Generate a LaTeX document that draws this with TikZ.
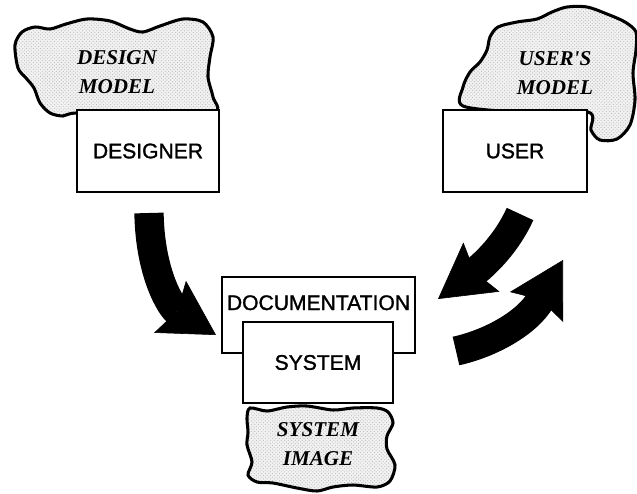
\documentclass[tikz,border=0pt]{standalone}
\usepackage{fontspec}
\setmainfont{Liberation Sans}
\newfontfamily\boxfont[FakeBold=1.4]{Liberation Sans}
\newfontfamily\modelfont{Liberation Serif}
\usetikzlibrary{arrows.meta,patterns}

\begin{document}
\begin{tikzpicture}[x=0.03cm, y=-0.03cm,
        box/.style={draw, fill=white, line width=2.2pt, inner sep=0pt,
            font=\boxfont\fontsize{18}{21}\selectfont},
        cloud/.style={draw, line width=2.6pt, preaction={fill=black!5},
            pattern=crosshatch dots, pattern color=black!28},
        modeltext/.style={align=center,
            font=\modelfont\bfseries\itshape\fontsize{18}{25}\selectfont},
        bigarrow/.style={line width=25pt,
            -{Stealth[length=46pt, width=52pt, inset=7pt, line width=0.5pt]}}]
        \useasboundingbox (0,0) rectangle (637,493);

        % Design model
        \draw[cloud] plot[smooth cycle] coordinates {
            (15,45) (22,32) (35,27) (50,29) (66,24) (87,19) (110,21) (130,29)
            (143,32) (160,26) (183,19) (203,22) (213,37) (210,57) (208,77)
            (213,97) (214,112) (150,116) (78,113) (63,116) (50,113) (40,103)
            (34,88) (26,78) (18,68)};
        \node[modeltext] (designmodel) at (117,72) {DESIGN\\MODEL};
        \node[box, minimum width=4.26cm, minimum height=2.46cm] (designer)
            at (148,151) {DESIGNER};

        % User's model
        \draw[cloud] plot[smooth cycle] coordinates {
            (498,27) (517,22) (537,19) (552,12) (567,7) (587,7) (607,14)
            (625,22) (636,32) (636,50) (633,73) (635,100) (630,125) (617,139)
            (600,140) (591,130) (588,112) (520,112) (463,106) (463,87)
            (470,72) (480,62) (487,50) (490,37)};
        \node[modeltext] (usermodel) at (555,73) {USER'S\\MODEL};
        \node[box, minimum width=4.32cm, minimum height=2.46cm] (user)
            at (515,151) {USER};

        % System image
        \draw[cloud] plot[smooth cycle] coordinates {
            (250,408) (267,411) (287,407) (307,406) (333,410) (353,408)
            (377,408) (388,412) (393,423) (387,436) (387,449) (395,465)
            (390,481) (377,487) (353,485) (333,487) (317,491) (297,488)
            (273,483) (257,482) (248,475) (252,462) (247,445) (248,432)
            (247,418)};
        \node[modeltext] (sysimage) at (318,444) {SYSTEM\\IMAGE};
        \node[box, minimum width=5.79cm, text height=0.99cm,
            text depth=1.29cm, anchor=base] (docu) at (318.5,310) {DOCUMENTATION};
        \node[box, minimum width=4.5cm, minimum height=2.43cm] (system)
            at (318,362.5) {SYSTEM};

        % Arrows
        \coordinate (dtail) at (149,213);
        \coordinate (dtip) at (216,335);
        \draw[bigarrow] (dtail) .. controls (150,275) and (172,308) .. (dtip);

        \coordinate (utail) at (520,214);
        \coordinate (utip) at (438,299);
        \draw[bigarrow] (utail) .. controls (503,252) and (472,274) .. (utip);

        \coordinate (stail) at (456,351);
        \coordinate (stip) at (563,260);
        \draw[bigarrow] (stail) .. controls (492,343) and (528,322) .. (stip);
    \end{tikzpicture}
\end{document}
